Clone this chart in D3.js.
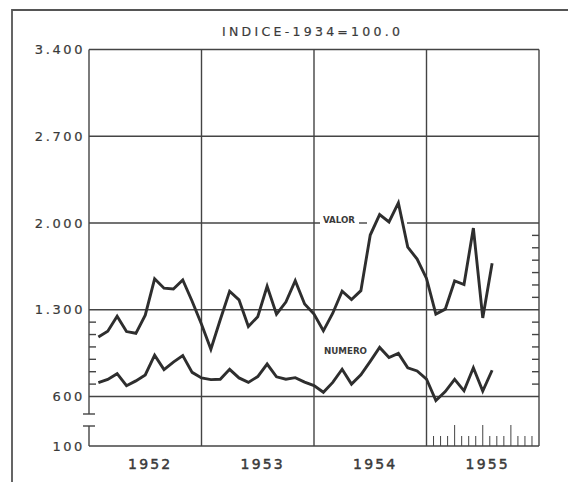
<!DOCTYPE html>
<html>
<head>
<meta charset="utf-8">
<script src="https://cdn.jsdelivr.net/npm/d3@7"></script>
<style>
  body { margin: 0; background: #fff; }
  text { font-family: "DejaVu Sans", sans-serif; fill: #3a3a3a; }
</style>
</head>
<body>
<svg width="568" height="482"></svg>
<script>
// monthly index numbers, Jan 1952 .. Jul 1955 (1934 = 100)
const years = [1952, 1953, 1954, 1955];
const yTicks = [100, 600, 1300, 2000, 2700, 3400];
const valor = [
  1080, 1127, 1247, 1124, 1110, 1256, 1550, 1474, 1468, 1541, 1369, 1183,
  981, 1219, 1449, 1380, 1165, 1244, 1490, 1264, 1362, 1535, 1347, 1265,
  1130, 1272, 1450, 1382, 1454, 1903, 2068, 2008, 2162, 1805, 1709, 1553,
  1265, 1305, 1532, 1503, 1959, 1234, 1676
];
const numero = [
  712, 738, 784, 687, 726, 774, 933, 817, 878, 930, 795, 750,
  736, 739, 819, 750, 714, 761, 862, 759, 740, 752, 716, 688,
  634, 714, 820, 700, 775, 884, 996, 914, 948, 832, 806, 741,
  560, 640, 738, 646, 832, 644, 812
];

const svg = d3.select('svg');
const ink = '#2e2e2e';

// months counted from start of 1952, each point sits at the end of its month
const x = d3.scaleLinear().domain([0, 48]).range([89, 539]);
// broken axis: 100 .. 600 squeezed below the break
const y = d3.scaleLinear().domain([100, 600, 3400]).range([446, 396.5, 49.5]);

// page border
svg.append('path')
  .attr('d', 'M12,482 V10 H568')
  .attr('fill', 'none').attr('stroke', '#555').attr('stroke-width', 1.8);

// grid
const grid = svg.append('g').attr('stroke', '#444').attr('stroke-width', 1.4);
grid.selectAll('line.h')
  .data(yTicks.filter(d => d >= 600)).enter().append('line')
  .attr('x1', x(0)).attr('x2', x(48))
  .attr('y1', d => y(d)).attr('y2', d => y(d));
grid.selectAll('line.v')
  .data([12, 24, 36, 48]).enter().append('line')
  .attr('x1', d => x(d)).attr('x2', d => x(d))
  .attr('y1', y(3400)).attr('y2', y(100));

// left axis with break
grid.append('line').attr('x1', x(0)).attr('x2', x(0)).attr('y1', y(3400)).attr('y2', 414);
grid.append('line').attr('x1', x(0)).attr('x2', x(0)).attr('y1', 426).attr('y2', y(100));
grid.append('line').attr('x1', 83).attr('x2', 95).attr('y1', 414).attr('y2', 414);
grid.append('line').attr('x1', 83).attr('x2', 95).attr('y1', 426).attr('y2', 426);
grid.append('line').attr('x1', x(0)).attr('x2', x(48)).attr('y1', y(100)).attr('y2', y(100));

// minor ticks, every 100
const minor = d3.range(700, 2000, 100).filter(d => d !== 1300);
grid.selectAll('line.ml')
  .data(minor.filter(d => d < 1300)).enter().append('line')
  .attr('x1', x(0)).attr('x2', x(0) + 7)
  .attr('y1', d => y(d)).attr('y2', d => y(d));
grid.selectAll('line.mr')
  .data(minor).enter().append('line')
  .attr('x1', x(48) - 7).attr('x2', x(48))
  .attr('y1', d => y(d)).attr('y2', d => y(d));

// little ruler in the 1955 panel
grid.selectAll('line.r')
  .data(d3.range(1, 16)).enter().append('line')
  .attr('stroke-width', 1)
  .attr('x1', d => x(36 + d * 0.75)).attr('x2', d => x(36 + d * 0.75))
  .attr('y1', y(100)).attr('y2', d => y(100) - (d % 4 === 0 ? 21 : 10));

// y labels
const fmt = d => d3.format(',')(d).replace(',', '.');
svg.append('g')
  .attr('transform', `translate(${x(0)},0)`)
  .call(d3.axisLeft(y).tickValues(yTicks).tickSize(0).tickPadding(4).tickFormat(fmt))
  .call(g => g.select('.domain').remove())
  .selectAll('text')
  .style('font-family', '"DejaVu Sans", sans-serif')
  .style('font-size', '13px')
  .style('letter-spacing', '2.6px')
  .attr('fill', '#3a3a3a')
  .attr('stroke', '#3a3a3a').attr('stroke-width', 0.2);

// x labels
svg.selectAll('text.yr')
  .data(years).enter().append('text')
  .attr('x', (d, i) => x(6 + 12 * i) + 5)
  .attr('y', 469)
  .attr('text-anchor', 'middle')
  .style('font-size', '14px')
  .style('letter-spacing', '2.2px')
  .attr('stroke', '#3a3a3a').attr('stroke-width', 0.45)
  .text(d => d);

// title
svg.append('text')
  .attr('x', 311).attr('y', 36)
  .attr('text-anchor', 'middle')
  .attr('textLength', 178).attr('lengthAdjust', 'spacing')
  .style('font-size', '12.5px')
  .attr('stroke', '#3a3a3a').attr('stroke-width', 0.2)
  .text('INDICE-1934=100.0');

// gap in the 2000 line around the VALOR label
svg.append('rect')
  .attr('x', 320).attr('y', y(2000) - 2.5).attr('width', 87).attr('height', 5)
  .attr('fill', '#fff');
svg.append('line')
  .attr('x1', 359).attr('x2', 367).attr('y1', y(2000)).attr('y2', y(2000))
  .attr('stroke', '#444').attr('stroke-width', 1.4);

// series
const line = d3.line().x((d, i) => x(i + 1)).y(d => y(d));
[valor, numero].forEach(s => {
  svg.append('path')
    .attr('d', line(s))
    .attr('fill', 'none')
    .attr('stroke', ink)
    .attr('stroke-width', 2.9)
    .attr('stroke-linejoin', 'miter');
});

svg.append('text')
  .attr('x', 323).attr('y', y(2000))
  .attr('textLength', 32).attr('lengthAdjust', 'spacingAndGlyphs')
  .style('font-size', '8.5px').style('font-weight', 'bold')
  .text('VALOR');
svg.append('text')
  .attr('x', 324).attr('y', 353.5)
  .attr('textLength', 43).attr('lengthAdjust', 'spacingAndGlyphs')
  .style('font-size', '9px').style('font-weight', 'bold')
  .text('NUMERO');
</script>
</body>
</html>
